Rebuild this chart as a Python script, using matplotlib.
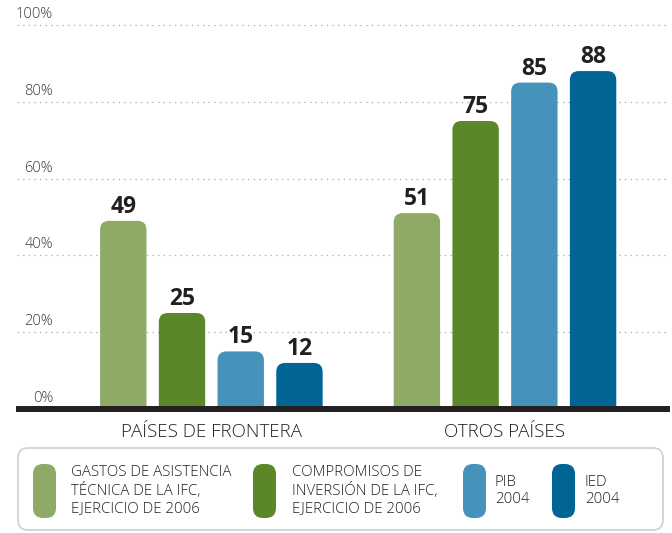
import matplotlib
matplotlib.use("Agg")
import matplotlib.pyplot as plt
from matplotlib.patches import FancyBboxPatch
from matplotlib.transforms import offset_copy

# datos
grupos = ["PAÍSES DE FRONTERA", "OTROS PAÍSES"]
series = [
    "GASTOS DE ASISTENCIA\nTÉCNICA DE LA IFC,\nEJERCICIO DE 2006",
    "COMPROMISOS DE\nINVERSIÓN DE LA IFC,\nEJERCICIO DE 2006",
    "PIB\n2004",
    "IED\n2004",
]
frontera = [49, 25, 15, 12]
otros = [51, 75, 85, 88]
ticks = [0, 20, 40, 60, 80, 100]
tick_labels = ["0%", "20%", "40%", "60%", "80%", "100%"]

colores = ["#8eaa66", "#5b8729", "#4592bb", "#006595"]
texto = "#231f20"
plt.rcParams["font.family"] = ["Open Sans", "DejaVu Sans"]

W, H = 672, 533
fig = plt.figure(figsize=(W / 100, H / 100), dpi=100)

# ejes en pixeles: 0% en y=409, 100% en y=25
y0, y100 = 409, 25
ppu = (y0 - y100) / 100
ytop = 102
ax = fig.add_axes([17 / W, (H - y0) / H, (670 - 17) / W, ytop * ppu / H])
ax.set_ylim(0, ytop)
xl, xr = -1.81, 9.31
ax.set_xlim(xl, xr)
for s in ax.spines.values():
    s.set_visible(False)
ax.set_xticks([])
ax.set_yticks([])

# cuadricula punteada y etiquetas del eje
tr_tick = offset_copy(ax.get_yaxis_transform(), fig=fig, x=0, y=3, units="dots")
for t, lab in zip(ticks, tick_labels):
    if t > 0:
        ax.axhline(t, color="#a8a8a8", lw=0.9, dashes=(1, 3.5), zorder=0)
    ax.text((53 - 17) / 653, t, lab, transform=tr_tick, ha="right", va="bottom",
            fontsize=10.5, fontweight="light", color="#3a3a3a")

# barras redondeadas
px_x = 653 / (xr - xl)
aspect = px_x / ppu
ancho = 0.79
radio = 9 / px_x
posiciones = [[0, 1, 2, 3], [5, 6, 7, 8]]
tr_val = offset_copy(ax.transData, fig=fig, x=0, y=8, units="dots")
for pos, vals in zip(posiciones, [frontera, otros]):
    for i, (x, v) in enumerate(zip(pos, vals)):
        p = FancyBboxPatch((x - ancho / 2, -6), ancho, v + 6,
                           boxstyle=f"round,pad=0,rounding_size={radio}",
                           mutation_aspect=aspect, fc=colores[i], ec="none", zorder=2)
        ax.add_patch(p)
        ax.text(x, v, str(v), transform=tr_val, ha="center", va="baseline",
                fontsize=16.5, fontweight="bold", color=texto)

# linea base
ax.axhline(0, xmin=0.003, xmax=(667 - 17) / 653, color=texto, lw=4.3, clip_on=False, zorder=3)

# etiquetas de grupo
tr_grp = offset_copy(ax.get_xaxis_transform(), fig=fig, x=0, y=-28, units="dots")
for pos, g in zip(posiciones, grupos):
    ax.text(sum(pos) / len(pos), 0, g, transform=tr_grp, ha="center", va="baseline",
            fontsize=13.5, fontweight="light", color=texto)

# leyenda (coordenadas en pixeles)
lg = fig.add_axes([0, 0, 1, 1], zorder=-1)
lg.set_xlim(0, W)
lg.set_ylim(H, 0)
lg.axis("off")
lg.add_patch(FancyBboxPatch((18, 448), 645, 82, boxstyle="round,pad=0,rounding_size=10",
                            fc="white", ec="#d2d2d2", lw=1.3))
pill_x = [33, 253, 463, 552]
text_x = [71, 292, 495, 585]
for i, s in enumerate(series):
    lg.add_patch(FancyBboxPatch((pill_x[i], 464), 23, 54, boxstyle="round,pad=0,rounding_size=10",
                                fc=colores[i], ec="none"))
    lg.text(text_x[i], 491, s, ha="left", va="center", fontsize=10.8, fontweight="light",
            color=texto, linespacing=1.22)

fig.savefig("out.png", dpi=100)
